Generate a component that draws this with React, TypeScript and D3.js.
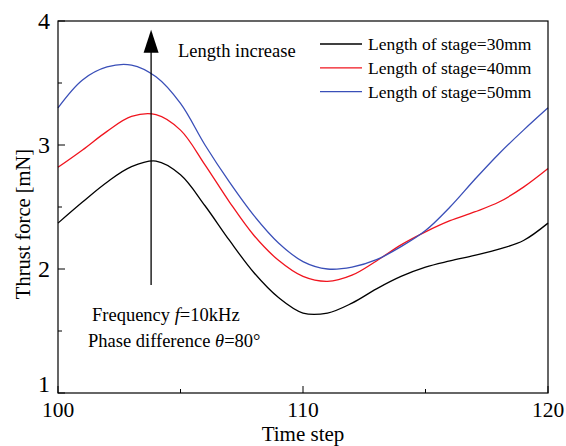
import React from "react";
import * as d3 from "d3";

const time = [100, 101, 102, 103, 104, 105, 106, 107, 108, 109, 110, 111, 112, 113, 114, 115, 116, 117, 118, 119, 120];
const stage30 = [2.37, 2.54, 2.70, 2.825, 2.87, 2.76, 2.51, 2.23, 1.97, 1.77, 1.645, 1.645, 1.725, 1.84, 1.94, 2.015, 2.065, 2.11, 2.16, 2.23, 2.37];
const stage40 = [2.82, 2.96, 3.11, 3.23, 3.245, 3.12, 2.84, 2.54, 2.27, 2.07, 1.94, 1.90, 1.95, 2.065, 2.195, 2.30, 2.39, 2.46, 2.54, 2.66, 2.81];
const stage50 = [3.30, 3.525, 3.63, 3.645, 3.55, 3.335, 3.00, 2.70, 2.43, 2.21, 2.06, 2.0, 2.015, 2.075, 2.18, 2.31, 2.50, 2.72, 2.93, 3.12, 3.30];

const seriesNames = ["Length of stage=30mm", "Length of stage=40mm", "Length of stage=50mm"];
const seriesColors = ["#000000", "#f0141e", "#3a4fb8"];
const seriesValues = [stage30, stage40, stage50];

const xMajorTicks = [100, 110, 120];
const xMinorTicks = [105, 115];
const yMajorTicks = [1, 2, 3, 4];
const yMinorTicks = [1.5, 2.5, 3.5];

const arrowTime = 103.8;
const arrowFrom = 1.87;
const arrowTo = 3.93;

const W = 566;
const H = 446;
const M = { left: 58, right: 548, top: 21, bottom: 393 };
const FONT = "'Liberation Serif', 'Times New Roman', serif";

export default function App() {
  const x = d3.scaleLinear().domain([100, 120]).range([M.left, M.right]);
  const y = d3.scaleLinear().domain([1, 4]).range([M.bottom, M.top]);
  const line = d3
    .line<number>()
    .x((_, i) => x(time[i]))
    .y((d) => y(d))
    .curve(d3.curveCatmullRom.alpha(0.5));

  const ax = x(arrowTime);
  const ayTop = y(arrowTo);
  const ayBot = y(arrowFrom);

  return (
    <svg
      width={W}
      height={H}
      style={{ position: "absolute", left: 0, top: 0, background: "#fff" }}
      fontFamily={FONT}
    >
      <rect x={0} y={0} width={W} height={H} fill="#fff" />
      <g fill="none" strokeWidth={1.3}>
        {seriesValues.map((vals, k) => (
          <path key={k} d={line(vals) || ""} stroke={seriesColors[k]} />
        ))}
      </g>
      <rect
        x={M.left}
        y={M.top}
        width={M.right - M.left}
        height={M.bottom - M.top}
        fill="none"
        stroke="#000"
        strokeWidth={1.2}
      />
      {xMajorTicks.map((t) => (
        <g key={"xm" + t}>
          <line x1={x(t)} x2={x(t)} y1={M.bottom} y2={M.bottom - 7} stroke="#000" />
          <text x={x(t)} y={M.bottom + 24} fontSize={21.5} textAnchor="middle">
            {t}
          </text>
        </g>
      ))}
      {xMinorTicks.map((t) => (
        <line key={"xn" + t} x1={x(t)} x2={x(t)} y1={M.bottom} y2={M.bottom - 4} stroke="#000" />
      ))}
      {yMajorTicks.map((v) => (
        <g key={"ym" + v}>
          <line x1={M.left} x2={M.left + 7} y1={y(v)} y2={y(v)} stroke="#000" />
          <text x={M.left - 8} y={y(v) + (v === 1 ? -1 : 8)} fontSize={24} textAnchor="end">
            {v}
          </text>
        </g>
      ))}
      {yMinorTicks.map((v) => (
        <line key={"yn" + v} x1={M.left} x2={M.left + 4} y1={y(v)} y2={y(v)} stroke="#000" />
      ))}
      <text x={(M.left + M.right) / 2} y={441} fontSize={21} textAnchor="middle">
        Time step
      </text>
      <text
        transform={`translate(30, ${224}) rotate(-90)`}
        fontSize={20.5}
        textAnchor="middle"
      >
        Thrust force [mN]
      </text>
      <line x1={ax} x2={ax} y1={ayBot} y2={ayTop + 18} stroke="#000" strokeWidth={1.3} />
      <path d={`M${ax},${ayTop} L${ax - 7.5},${ayTop + 23} L${ax + 7.5},${ayTop + 23} Z`} fill="#000" />
      <text x={178} y={57} fontSize={18.5}>
        Length increase
      </text>
      {seriesNames.map((name, k) => {
        const yy = 44 + k * 23.8;
        return (
          <g key={name}>
            <line x1={320} x2={362} y1={yy} y2={yy} stroke={seriesColors[k]} strokeWidth={1.3} />
            <text x={368} y={yy + 6} fontSize={17.5}>
              {name}
            </text>
          </g>
        );
      })}
      <text x={92} y={321} fontSize={18.5}>
        Frequency <tspan fontStyle="italic">f</tspan>=10kHz
      </text>
      <text x={88} y={347} fontSize={18.5}>
        Phase difference <tspan fontStyle="italic">θ</tspan>=80°
      </text>
    </svg>
  );
}
